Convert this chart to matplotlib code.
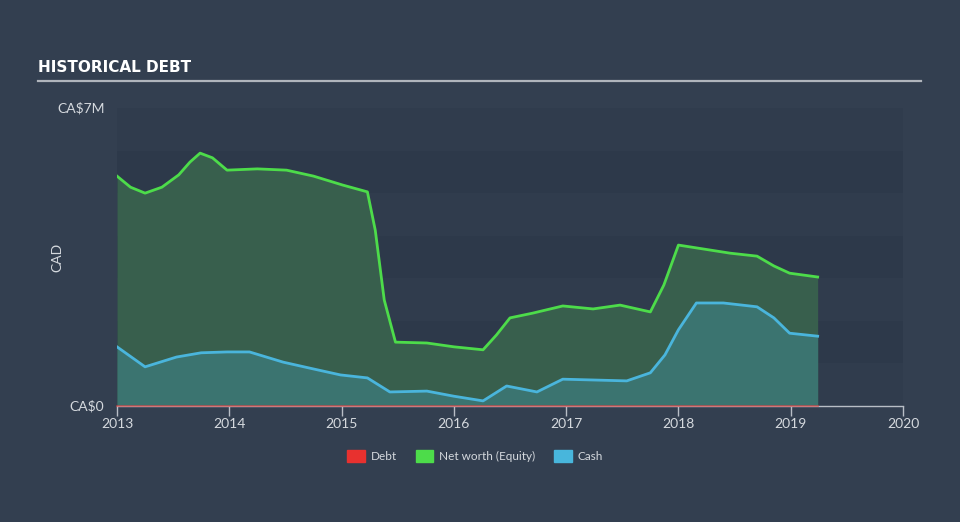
import matplotlib
matplotlib.use("Agg")
import matplotlib.pyplot as plt
from matplotlib.patches import Rectangle
from matplotlib.lines import Line2D

# ---- data (CA$ millions) ----
equity_dates = [2013.00, 2013.12, 2013.25, 2013.40, 2013.55, 2013.65, 2013.74, 2013.85,
                2013.98, 2014.25, 2014.51, 2014.75, 2015.01, 2015.23, 2015.30, 2015.38,
                2015.48, 2015.76, 2016.00, 2016.26, 2016.38, 2016.50, 2016.70, 2016.97,
                2017.24, 2017.48, 2017.75, 2017.87, 2018.00, 2018.46, 2018.70, 2018.85,
                2018.99, 2019.24]
equity_values = [5.40, 5.14, 5.00, 5.14, 5.43, 5.73, 5.94, 5.83,
                 5.54, 5.57, 5.54, 5.40, 5.19, 5.03, 4.13, 2.49,
                 1.50, 1.48, 1.39, 1.32, 1.67, 2.07, 2.18, 2.35,
                 2.28, 2.37, 2.21, 2.84, 3.78, 3.59, 3.52, 3.29,
                 3.12, 3.03]

cash_dates = [2013.00, 2013.25, 2013.53, 2013.75, 2013.98, 2014.18, 2014.48, 2014.75,
              2014.99, 2015.23, 2015.43, 2015.76, 2016.00, 2016.26, 2016.47, 2016.74,
              2016.97, 2017.54, 2017.75, 2017.88, 2018.00, 2018.16, 2018.40, 2018.70,
              2018.85, 2018.99, 2019.24]
cash_values = [1.39, 0.92, 1.15, 1.25, 1.27, 1.27, 1.03, 0.87,
               0.73, 0.66, 0.33, 0.35, 0.23, 0.12, 0.47, 0.33,
               0.63, 0.59, 0.78, 1.20, 1.79, 2.42, 2.42, 2.33,
               2.07, 1.71, 1.64]

debt_dates = [2013.00, 2019.24]
debt_values = [0.0, 0.0]

x_ticks = [2013, 2014, 2015, 2016, 2017, 2018, 2019, 2020]
y_tick_values = [0, 7]
y_tick_labels = ["CA\\$0", "CA\\$7M"]
legend_labels = ["Debt", "Net worth (Equity)", "Cash"]

# ---- style ----
BG = "#333f50"
BAND_A = "#303c4d"
BAND_B = "#2d394a"
EQ_LINE = "#4ddc4a"
EQ_FILL = "#385f4d"
CASH_LINE = "#4ab5dc"
CASH_FILL = "#3b7470"
DEBT = "#e8312f"
TXT = "#d5d9de"
plt.rcParams['font.family'] = ['Lato', 'DejaVu Sans']

fig = plt.figure(figsize=(9.6, 5.22), dpi=100, facecolor=BG)
ax = fig.add_axes([117/960, 1 - 406/522, (903-117)/960, (406-108)/522])
ax.set_facecolor(BG)
ax.set_xlim(2013, 2020)
ax.set_ylim(0, 7)

for i in range(7):
    ax.axhspan(i, i + 1, color=BAND_A if i % 2 == 0 else BAND_B, lw=0, zorder=0)

ax.fill_between(equity_dates, 0, equity_values, color=EQ_FILL, lw=0, zorder=1)
ax.fill_between(cash_dates, 0, cash_values, color=CASH_FILL, lw=0, zorder=2)
ax.plot(equity_dates, equity_values, color=EQ_LINE, lw=2, zorder=4, solid_joinstyle='round')
ax.plot(cash_dates, cash_values, color=CASH_LINE, lw=2, zorder=4, solid_joinstyle='round')
ax.plot(debt_dates, debt_values, color=DEBT, lw=1.2, alpha=0.6, zorder=5, clip_on=False)

for s in ["top", "right", "left"]:
    ax.spines[s].set_visible(False)
ax.spines["bottom"].set_color("#b8bec6")
ax.spines["bottom"].set_linewidth(1)
ax.spines["bottom"].set_zorder(3)

ax.set_xticks(x_ticks)
ax.set_xticklabels([str(t) for t in x_ticks])
ax.tick_params(axis='x', colors="#b8bec6", length=7, width=1, labelsize=10,
               labelcolor=TXT, pad=2)
ax.set_yticks(y_tick_values)
ax.set_yticklabels(y_tick_labels)
ax.tick_params(axis='y', length=0, labelsize=10, labelcolor=TXT, pad=9)
ax.set_ylabel("CAD", color=TXT, fontsize=10)
ax.yaxis.set_label_coords((63 - 117) / 786, 0.5)
for lbl in ax.get_yticklabels():
    lbl.set_verticalalignment('center')

# title and rule
fig.text(38/960, 1 - 68/522, "HISTORICAL DEBT", color="white", fontsize=11,
         fontweight="bold", family=['Liberation Sans Narrow', 'DejaVu Sans'], va='center')
fig.add_artist(Line2D([38/960, 921/960], [1 - 81/522, 1 - 81/522],
                      color="#b0b5bc", lw=1.6))

# legend
handles = [Rectangle((0, 0), 1, 1, color=c) for c in [DEBT, "#4ddc4a", "#48b6dc"]]
leg = fig.legend(handles, legend_labels, loc='center', bbox_to_anchor=(0.495, 1 - 456/522),
                 ncol=3, frameon=False, fontsize=8.5, labelcolor=TXT,
                 handlelength=1.5, handleheight=1.2, handletextpad=0.5, columnspacing=1.6)

fig.savefig("out.png", dpi=100, facecolor=BG)
